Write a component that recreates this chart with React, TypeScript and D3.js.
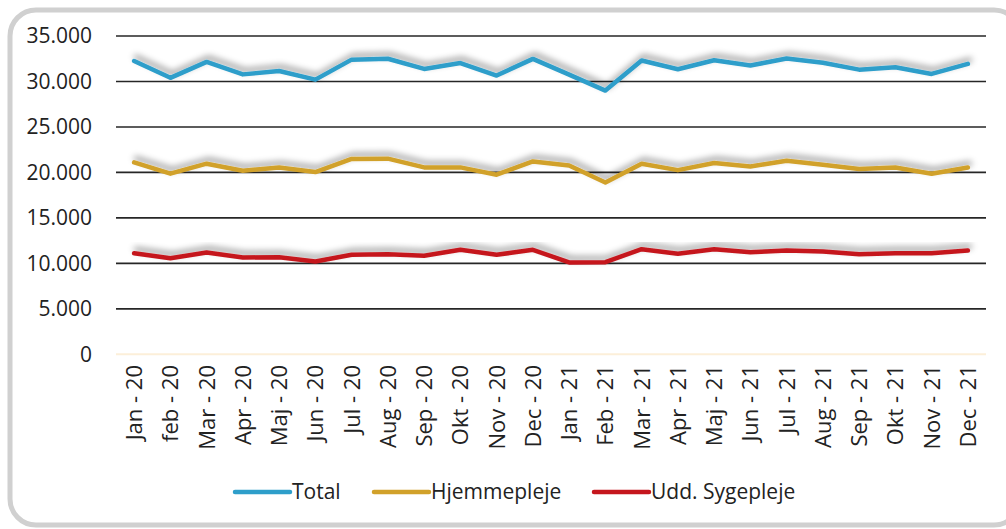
import * as d3 from "d3";

const months = [
  "Jan - 20", "feb - 20", "Mar - 20", "Apr - 20", "Maj - 20", "Jun - 20",
  "Jul - 20", "Aug - 20", "Sep - 20", "Okt - 20", "Nov - 20", "Dec - 20",
  "Jan - 21", "Feb - 21", "Mar - 21", "Apr - 21", "Maj - 21", "Jun - 21",
  "Jul - 21", "Aug - 21", "Sep - 21", "Okt - 21", "Nov - 21", "Dec - 21",
];

const total = [
  32250, 30400, 32150, 30780, 31150, 30200, 32400, 32500, 31380, 32030, 30650, 32480,
  30750, 29000, 32300, 31350, 32330, 31750, 32520, 32050, 31300, 31560, 30830, 31930,
];

const hjemmepleje = [
  21100, 19860, 20960, 20190, 20550, 20040, 21480, 21510, 20550, 20550, 19750, 21210,
  20770, 18900, 20960, 20250, 21030, 20660, 21290, 20850, 20370, 20550, 19860, 20550,
];

const sygepleje = [
  11120, 10570, 11190, 10640, 10680, 10200, 10940, 11010, 10830, 11490, 10940, 11490,
  10100, 10130, 11560, 11060, 11560, 11230, 11410, 11300, 11010, 11120, 11120, 11410,
];

const yTicks = [0, 5000, 10000, 15000, 20000, 25000, 30000, 35000];

const series = [
  { name: "Total", values: total, color: "#2E9ECA" },
  { name: "Hjemmepleje", values: hjemmepleje, color: "#D1A12A" },
  { name: "Udd. Sygepleje", values: sygepleje, color: "#C5161D" },
];

const W = 1006;
const H = 529;
const font = "'Open Sans', sans-serif";

export default function App() {
  const x = d3.scaleBand<string>().domain(months).range([116, 986]);
  const y = d3.scaleLinear().domain([0, 35000]).range([354.3, 36]);
  const fmt = (v: number) => d3.format(",")(v).replace(/,/g, ".");

  const line = d3
    .line<number>()
    .x((_, i) => (x(months[i]) as number) + x.bandwidth() / 2)
    .y((d) => y(d));

  const legendX = [235, 374, 594];

  return (
    <svg
      width={W}
      height={H}
      style={{ position: "absolute", left: 0, top: 0 }}
      fontFamily={font}
    >
      <defs>
        <filter id="shadow" x="-5%" y="-50%" width="110%" height="200%">
          <feDropShadow dx="2" dy="-4" stdDeviation="3" floodColor="#000" floodOpacity="0.4" />
        </filter>
      </defs>
      <rect x={0} y={0} width={W} height={H} fill="#fff" />
      <rect
        x={10}
        y={10}
        width={1010}
        height={515}
        rx={26}
        fill="#fff"
        stroke="#d0d0d0"
        strokeWidth={5}
      />

      {yTicks.map((t) => (
        <g key={t}>
          {t > 0 ? (
            <line x1={116} x2={986} y1={y(t)} y2={y(t)} stroke="#262626" strokeWidth={1.6} />
          ) : (
            <line x1={116} x2={986} y1={y(t)} y2={y(t)} stroke="#fcefd9" strokeWidth={2} />
          )}
          <text
            x={92}
            y={y(t)}
            dy="0.35em"
            textAnchor="end"
            fontSize={21}
            fill="#222"
          >
            {fmt(t)}
          </text>
        </g>
      ))}

      {months.map((m) => {
        const cx = (x(m) as number) + x.bandwidth() / 2;
        return (
          <text
            key={m}
            transform={`translate(${cx},365) rotate(-90)`}
            dy="0.36em"
            textAnchor="end"
            fontSize={22}
            fill="#222"
          >
            {m}
          </text>
        );
      })}

      {series.map((s) => (
        <path
          key={s.name}
          d={line(s.values) || ""}
          fill="none"
          stroke={s.color}
          strokeWidth={4.5}
          strokeLinejoin="round"
          strokeLinecap="round"
          filter="url(#shadow)"
        />
      ))}

      {series.map((s, i) => (
        <g key={s.name} transform={`translate(${legendX[i]},492)`}>
          <line x1={0} x2={55} y1={0} y2={0} stroke={s.color} strokeWidth={4.5} strokeLinecap="round" />
          <text x={57} dy="0.35em" fontSize={21} fill="#222">
            {s.name}
          </text>
        </g>
      ))}
    </svg>
  );
}
